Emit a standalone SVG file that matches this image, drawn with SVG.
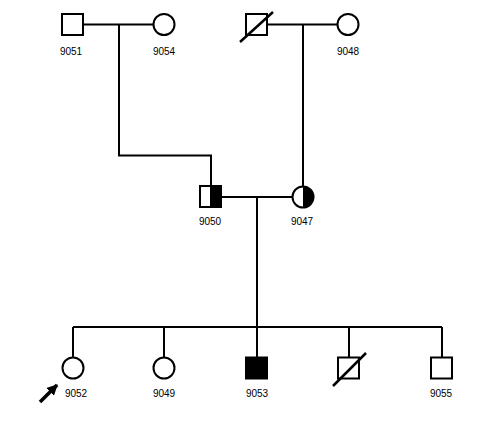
<svg xmlns="http://www.w3.org/2000/svg" width="499" height="425" viewBox="0 0 499 425">
<style>
.s{fill:#fff;stroke:#000;stroke-width:2}
.f{fill:#000;stroke:#000;stroke-width:2}
.l{fill:none;stroke:#000;stroke-width:2}
.d{fill:none;stroke:#000;stroke-width:2.5}
.t{font-family:"Liberation Sans",Arial,sans-serif;font-size:10px;fill:#000;text-anchor:middle}
</style>
<defs>
<marker id="ah" viewBox="0 0 10 10" refX="9" refY="5" markerWidth="11" markerHeight="11" orient="auto" markerUnits="userSpaceOnUse">
<path d="M0,0 L10,5 L0,10 z" fill="#000"/>
</marker>
</defs>
<rect width="499" height="425" fill="#fff"/>
<g id="connectors">
<path class="l" d="M82,24.5 H153"/>
<path class="l" d="M119,24.5 V155.5 H211 V186"/>
<path class="l" d="M267,24.5 H337"/>
<path class="l" d="M303,24.5 V186"/>
<path class="l" d="M222,197 H292"/>
<path class="l" d="M257,197 V327"/>
<path class="l" d="M73,327 H442"/>
<path class="l" d="M73,327 V357 M164,327 V357 M257,327 V357 M349,327 V357 M442,327 V357"/>
</g>
<g id="n9051"><rect class="s" x="62" y="14" width="21" height="21"/><text class="t" x="71" y="55">9051</text></g>
<g id="n9054"><circle class="s" cx="164" cy="24.5" r="10.5"/><text class="t" x="164" y="55">9054</text></g>
<g id="n_dec1"><rect class="s" x="246" y="14" width="21" height="21"/><path class="d" d="M240,42 L273,12"/></g>
<g id="n9048"><circle class="s" cx="348" cy="24.5" r="10.5"/><text class="t" x="348" y="55">9048</text></g>
<g id="n9050"><rect class="s" x="200" y="186" width="21" height="21"/><rect class="f" x="211" y="186" width="10" height="21"/><text class="t" x="210" y="225">9050</text></g>
<g id="n9047"><circle class="s" cx="303" cy="197" r="10.5"/><path d="M303,186.5 A10.5,10.5 0 0 1 303,207.5 Z" fill="#000"/><text class="t" x="302" y="225">9047</text></g>
<g id="n9052"><circle class="s" cx="73" cy="368" r="10.5"/><text class="t" x="76" y="397">9052</text><path d="M40,402 L57,385" stroke="#000" stroke-width="3.5" fill="none" marker-end="url(#ah)"/></g>
<g id="n9049"><circle class="s" cx="164" cy="368" r="10.5"/><text class="t" x="164" y="397">9049</text></g>
<g id="n9053"><rect class="f" x="246" y="357.5" width="21" height="21"/><text class="t" x="257" y="397">9053</text></g>
<g id="n_dec2"><rect class="s" x="338" y="357.5" width="21" height="21"/><path class="d" d="M333,386 L366,353"/></g>
<g id="n9055"><rect class="s" x="431" y="357.5" width="21" height="21"/><text class="t" x="441" y="397">9055</text></g>
</svg>
